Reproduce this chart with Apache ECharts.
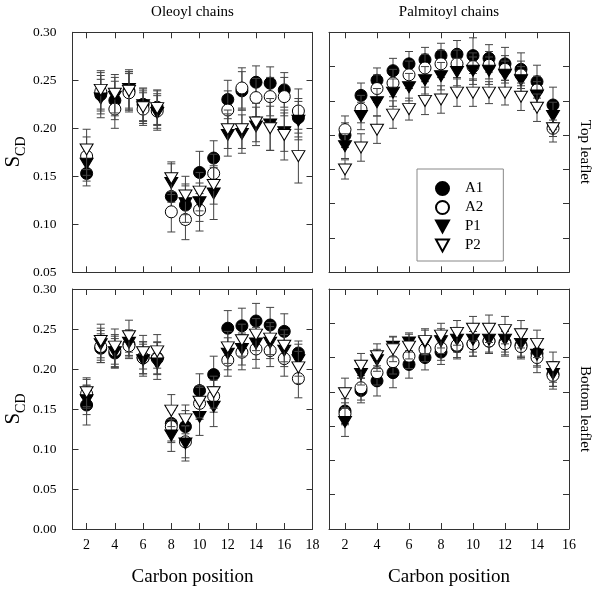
<!DOCTYPE html>
<html><head><meta charset="utf-8">
<script src="https://cdn.jsdelivr.net/npm/echarts@6/dist/echarts.min.js"></script>
<style>html,body{margin:0;padding:0;background:#fff}#c{width:600px;height:592px}</style>
</head><body><div id="c"></div>
<script>
// ---------- data ----------
const seriesNames = ['A1', 'A2', 'P1', 'P2'];
const oleoylPositions = [2,3,4,5,6,7,8,9,10,11,12,13,14,15,16,17];
const palmitoylPositions = [2,3,4,5,6,7,8,9,10,11,12,13,14,15];
const oleoylTicks = [2,4,6,8,10,12,14,16,18];
const palmitoylTicks = [2,4,6,8,10,12,14,16];
const leftYTicks = ['0.00','0.05','0.10','0.15','0.20','0.25','0.30'];

// Oleoyl, top leaflet
const oleoylTopA1 = [0.153,0.235,0.229,0.239,0.225,0.222,0.129,0.120,0.154,0.169,0.230,0.239,0.248,0.247,0.240,0.211];
const oleoylTopA2 = [0.171,0.238,0.220,0.237,0.220,0.218,0.113,0.105,0.115,0.153,0.219,0.242,0.232,0.233,0.233,0.218];
const oleoylTopP1 = [0.163,0.231,0.233,0.241,0.224,0.216,0.143,0.122,0.123,0.132,0.193,0.194,0.202,0.204,0.196,0.208];
const oleoylTopP2 = [0.178,0.240,0.236,0.239,0.222,0.221,0.148,0.130,0.134,0.141,0.199,0.199,0.206,0.200,0.193,0.171];
const oleoylTopA1Err = [0.013,0.020,0.020,0.020,0.017,0.018,0.020,0.020,0.022,0.018,0.020,0.020,0.017,0.017,0.018,0.020];
const oleoylTopA2Err = [0.020,0.020,0.020,0.020,0.017,0.018,0.021,0.021,0.022,0.020,0.020,0.021,0.020,0.020,0.020,0.023];
const oleoylTopP1Err = [0.018,0.020,0.020,0.020,0.017,0.018,0.020,0.020,0.020,0.027,0.022,0.020,0.020,0.027,0.020,0.020];
const oleoylTopP2Err = [0.021,0.020,0.020,0.020,0.017,0.018,0.017,0.020,0.020,0.020,0.020,0.020,0.020,0.023,0.026,0.028];

// Palmitoyl, top leaflet
const palmitoylTopA1 = [0.225,0.254,0.265,0.272,0.277,0.280,0.283,0.284,0.283,0.281,0.277,0.273,0.264,0.247];
const palmitoylTopA2 = [0.229,0.244,0.259,0.263,0.269,0.274,0.277,0.277,0.275,0.276,0.273,0.269,0.258,0.230];
const palmitoylTopP1 = [0.217,0.239,0.249,0.256,0.260,0.265,0.268,0.271,0.272,0.272,0.269,0.265,0.254,0.239];
const palmitoylTopP2 = [0.200,0.216,0.229,0.240,0.244,0.250,0.251,0.256,0.256,0.256,0.256,0.253,0.245,0.230];
const palmitoylTopA1Err = [0.009,0.009,0.009,0.009,0.009,0.009,0.009,0.010,0.013,0.010,0.012,0.012,0.012,0.013];
const palmitoylTopA2Err = [0.010,0.010,0.010,0.010,0.010,0.010,0.010,0.010,0.010,0.010,0.010,0.010,0.010,0.010];
const palmitoylTopP1Err = [0.009,0.010,0.010,0.010,0.010,0.010,0.010,0.010,0.010,0.010,0.010,0.010,0.010,0.010];
const palmitoylTopP2Err = [0.007,0.010,0.010,0.010,0.008,0.010,0.010,0.010,0.010,0.008,0.009,0.010,0.010,0.006];

// Oleoyl, bottom leaflet
const oleoylBottomA1 = [0.155,0.226,0.220,0.231,0.214,0.214,0.132,0.128,0.173,0.193,0.251,0.254,0.260,0.255,0.247,0.220];
const oleoylBottomA2 = [0.169,0.228,0.223,0.229,0.214,0.213,0.128,0.109,0.157,0.166,0.211,0.221,0.225,0.223,0.213,0.188];
const oleoylBottomP1 = [0.161,0.231,0.221,0.233,0.211,0.207,0.117,0.107,0.140,0.153,0.219,0.225,0.232,0.233,0.223,0.211];
const oleoylBottomP2 = [0.171,0.235,0.228,0.241,0.221,0.222,0.148,0.137,0.159,0.171,0.227,0.236,0.243,0.238,0.229,0.202];
const oleoylBottomA1Err = [0.025,0.018,0.018,0.016,0.020,0.020,0.022,0.020,0.021,0.023,0.022,0.022,0.022,0.022,0.022,0.015];
const oleoylBottomA2Err = [0.018,0.020,0.020,0.016,0.020,0.020,0.020,0.020,0.020,0.020,0.020,0.022,0.024,0.020,0.022,0.024];
const oleoylBottomP1Err = [0.018,0.020,0.020,0.016,0.020,0.020,0.020,0.022,0.023,0.025,0.020,0.020,0.020,0.020,0.020,0.020];
const oleoylBottomP2Err = [0.018,0.021,0.022,0.020,0.021,0.021,0.020,0.018,0.020,0.020,0.020,0.020,0.020,0.020,0.020,0.020];

// Palmitoyl, bottom leaflet
const palmitoylBottomA1 = [0.161,0.176,0.183,0.189,0.195,0.200,0.204,0.208,0.210,0.212,0.211,0.209,0.203,0.188];
const palmitoylBottomA2 = [0.159,0.178,0.189,0.197,0.201,0.206,0.207,0.209,0.210,0.212,0.210,0.208,0.200,0.187];
const palmitoylBottomP1 = [0.153,0.188,0.198,0.208,0.211,0.211,0.212,0.213,0.213,0.213,0.213,0.210,0.202,0.188];
const palmitoylBottomP2 = [0.174,0.194,0.201,0.206,0.208,0.212,0.216,0.218,0.221,0.221,0.220,0.217,0.210,0.193];
const palmitoylBottomA1Err = [0.009,0.009,0.011,0.011,0.010,0.009,0.009,0.009,0.009,0.009,0.009,0.009,0.009,0.009];
const palmitoylBottomA2Err = [0.008,0.009,0.009,0.009,0.009,0.009,0.009,0.009,0.009,0.009,0.009,0.009,0.011,0.010];
const palmitoylBottomP1Err = [0.0105,0.008,0.008,0.0075,0.007,0.009,0.009,0.009,0.009,0.009,0.009,0.009,0.009,0.009];
const palmitoylBottomP2Err = [0.011,0.009,0.009,0.009,0.009,0.009,0.009,0.009,0.009,0.010,0.010,0.010,0.010,0.011];

// ---------- chart ----------
const FONT = '"Liberation Serif", "Times New Roman", serif';
const AX = '#333';
const TRI = 'path://M0,0L12,0L6,11Z';
const styles = {
  A1: {symbol: 'circle', symbolSize: 12, itemStyle: {color: '#000', borderColor: '#000', borderWidth: 1, opacity: 1}},
  A2: {symbol: 'circle', symbolSize: 12, itemStyle: {color: '#fff', borderColor: '#000', borderWidth: 1, opacity: 1}},
  P1: {symbol: TRI, symbolSize: [13, 11], itemStyle: {color: '#000', borderColor: '#000', borderWidth: 1, opacity: 1}},
  P2: {symbol: TRI, symbolSize: [13, 11], itemStyle: {color: '#fff', borderColor: '#000', borderWidth: 1, opacity: 1}}
};

const panels = [
  {left: 72.5, top: 32.3, xMin: 1, xMax: 18, ticks: oleoylTicks, yMin: 0.05, yMax: 0.30, yInt: 0.05, xLabels: false, yLabels: true,
   xs: oleoylPositions, vals: [oleoylTopA1, oleoylTopA2, oleoylTopP1, oleoylTopP2], errs: [oleoylTopA1Err, oleoylTopA2Err, oleoylTopP1Err, oleoylTopP2Err]},
  {left: 329, top: 32.3, xMin: 1, xMax: 16, ticks: palmitoylTicks, yMin: 0.125, yMax: 0.30, yInt: 0.025, xLabels: false, yLabels: false,
   xs: palmitoylPositions, vals: [palmitoylTopA1, palmitoylTopA2, palmitoylTopP1, palmitoylTopP2], errs: [palmitoylTopA1Err, palmitoylTopA2Err, palmitoylTopP1Err, palmitoylTopP2Err]},
  {left: 72.5, top: 289, xMin: 1, xMax: 18, ticks: oleoylTicks, yMin: 0, yMax: 0.30, yInt: 0.05, xLabels: true, yLabels: true,
   xs: oleoylPositions, vals: [oleoylBottomA1, oleoylBottomA2, oleoylBottomP1, oleoylBottomP2], errs: [oleoylBottomA1Err, oleoylBottomA2Err, oleoylBottomP1Err, oleoylBottomP2Err]},
  {left: 329, top: 289, xMin: 1, xMax: 16, ticks: palmitoylTicks, yMin: 0.075, yMax: 0.25, yInt: 0.025, xLabels: true, yLabels: false,
   xs: palmitoylPositions, vals: [palmitoylBottomA1, palmitoylBottomA2, palmitoylBottomP1, palmitoylBottomP2], errs: [palmitoylBottomA1Err, palmitoylBottomA2Err, palmitoylBottomP1Err, palmitoylBottomP2Err]}
];

const grid = [], xAxis = [], yAxis = [], series = [];
panels.forEach((p, g) => {
  grid.push({left: p.left, top: p.top, width: 240, height: 240, containLabel: false});
  const tickCommon = {inside: true, length: 6, lineStyle: {color: AX, width: 1}};
  const lineCommon = {show: true, onZero: false, lineStyle: {color: AX, width: 1}};
  xAxis.push({gridIndex: g, type: 'value', position: 'bottom', min: p.xMin, max: p.xMax,
    axisLine: lineCommon, axisTick: Object.assign({customValues: p.ticks}, tickCommon),
    axisLabel: {show: p.xLabels, customValues: p.ticks, margin: 9, fontFamily: FONT, fontSize: 14, color: '#000'},
    splitLine: {show: false}});
  xAxis.push({gridIndex: g, type: 'value', position: 'top', min: p.xMin, max: p.xMax,
    axisLine: lineCommon, axisTick: Object.assign({customValues: p.ticks}, tickCommon),
    axisLabel: {show: false, customValues: p.ticks}, splitLine: {show: false}});
  yAxis.push({gridIndex: g, type: 'value', position: 'left', min: p.yMin, max: p.yMax, interval: p.yInt,
    axisLine: lineCommon, axisTick: tickCommon,
    axisLabel: {show: p.yLabels, margin: 16, fontFamily: FONT, fontSize: 13.5, color: '#000',
      formatter: v => leftYTicks.find(t => Math.abs(parseFloat(t) - v) < 1e-6) || ''},
    splitLine: {show: false}});
  yAxis.push({gridIndex: g, type: 'value', position: 'right', min: p.yMin, max: p.yMax, interval: p.yInt,
    axisLine: lineCommon, axisTick: tickCommon, axisLabel: {show: false}, splitLine: {show: false}});

  seriesNames.forEach((name, k) => {
    const ys = p.vals[k], es = p.errs[k];
    series.push({
      type: 'custom', xAxisIndex: 2 * g, yAxisIndex: 2 * g, silent: true, z: 10 + 2 * k,
      data: p.xs.map((x, i) => [x, ys[i] - es[i], ys[i] + es[i]]),
      encode: {x: 0, y: [1, 2]},
      renderItem: (params, api) => {
        const x = api.value(0);
        const a = api.coord([x, api.value(1)]), b = api.coord([x, api.value(2)]);
        const w = 4, st = {stroke: '#444', lineWidth: 1};
        return {type: 'group', children: [
          {type: 'line', shape: {x1: a[0], y1: a[1], x2: b[0], y2: b[1]}, style: st},
          {type: 'line', shape: {x1: a[0] - w, y1: a[1], x2: a[0] + w, y2: a[1]}, style: st},
          {type: 'line', shape: {x1: b[0] - w, y1: b[1], x2: b[0] + w, y2: b[1]}, style: st}
        ]};
      }
    });
    series.push(Object.assign({
      type: 'scatter', name: name, xAxisIndex: 2 * g, yAxisIndex: 2 * g, z: 11 + 2 * k,
      data: p.xs.map((x, i) => [x, ys[i]])
    }, styles[name]));
  });
});

const sText = (x, y) => ({type: 'text', x: x, y: y, rotation: Math.PI / 2,
  style: {text: '{s|S}{c|CD}', align: 'center', verticalAlign: 'middle',
    rich: {s: {fontFamily: FONT, fontSize: 21, lineHeight: 21, verticalAlign: 'top', fill: '#000'},
           c: {fontFamily: FONT, fontSize: 14, lineHeight: 14, padding: [12, 0, 0, 0], verticalAlign: 'top', fill: '#000'}}}});
const plain = (x, y, text, size, rot) => ({type: 'text', x: x, y: y, rotation: rot || 0,
  style: {text: text, fontFamily: FONT, fontSize: size, fill: '#000', align: 'center', verticalAlign: 'middle'}});

const option = {
  backgroundColor: '#fff',
  animation: false,
  grid, xAxis, yAxis, series,
  legend: {
    data: seriesNames, orient: 'vertical', left: 417, top: 169,
    selectedMode: false, itemWidth: 13, itemHeight: 13, itemGap: 4,
    padding: [12, 20, 8, 18], borderColor: '#888', borderWidth: 1,
    textStyle: {fontFamily: FONT, fontSize: 15, color: '#000', padding: [0, 0, 0, 11]}
  },
  graphic: [
    plain(192.5, 12, 'Oleoyl chains', 15),
    plain(449, 12, 'Palmitoyl chains', 15),
    plain(192.5, 577, 'Carbon position', 19),
    plain(449, 577, 'Carbon position', 19),
    plain(585, 152, 'Top leaflet', 15, -Math.PI / 2),
    plain(585, 409, 'Bottom leaflet', 15, -Math.PI / 2),
    sText(13, 152),
    sText(13, 409)
  ]
};
echarts.init(document.getElementById('c')).setOption(option);
</script>
</body></html>
